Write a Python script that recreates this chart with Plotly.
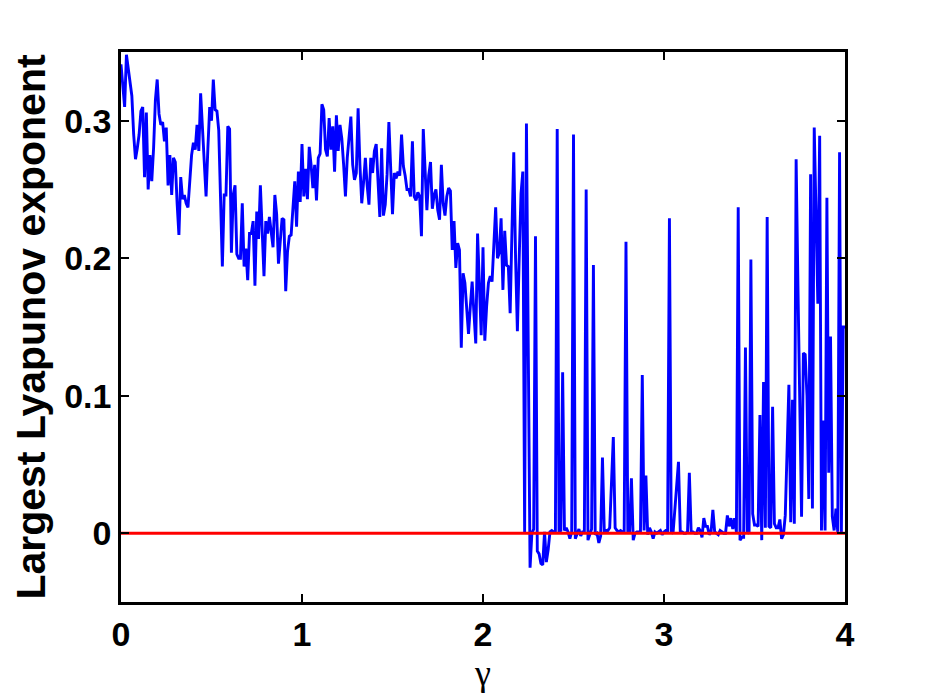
import plotly.graph_objects as go

# gamma sampled every 0.01 from 0 to 4 (401 samples)
gamma_start = 0.0
gamma_step = 0.01

lyap_0_49 = [
    0.341, 0.325, 0.310, 0.348, 0.338, 0.325, 0.318, 0.290, 0.272, 0.280,
    0.290, 0.307, 0.310, 0.259, 0.306, 0.250, 0.275, 0.256, 0.280, 0.315,
    0.330, 0.305, 0.297, 0.299, 0.285, 0.295, 0.253, 0.275, 0.246, 0.273,
    0.270, 0.240, 0.217, 0.259, 0.243, 0.246, 0.240, 0.237, 0.260, 0.275,
    0.284, 0.279, 0.297, 0.278, 0.320, 0.295, 0.270, 0.245, 0.280, 0.310,
]
lyap_50_99 = [
    0.300, 0.330, 0.308, 0.307, 0.293, 0.250, 0.194, 0.246, 0.246, 0.296,
    0.294, 0.204, 0.246, 0.253, 0.203, 0.200, 0.200, 0.240, 0.194, 0.207,
    0.184, 0.218, 0.218, 0.227, 0.180, 0.234, 0.214, 0.253, 0.217, 0.187,
    0.227, 0.218, 0.230, 0.219, 0.208, 0.246, 0.232, 0.196, 0.215, 0.229,
    0.228, 0.176, 0.205, 0.216, 0.217, 0.234, 0.256, 0.223, 0.263, 0.241,
]
lyap_100_149 = [
    0.283, 0.245, 0.265, 0.243, 0.281, 0.268, 0.251, 0.268, 0.242, 0.273,
    0.276, 0.312, 0.308, 0.279, 0.274, 0.302, 0.279, 0.296, 0.263, 0.304,
    0.278, 0.297, 0.287, 0.268, 0.245, 0.273, 0.287, 0.303, 0.268, 0.257,
    0.262, 0.309, 0.268, 0.240, 0.255, 0.273, 0.253, 0.239, 0.273, 0.262,
    0.278, 0.283, 0.256, 0.230, 0.280, 0.231, 0.239, 0.261, 0.299, 0.260,
]
lyap_150_199 = [
    0.232, 0.262, 0.258, 0.263, 0.260, 0.290, 0.267, 0.260, 0.250, 0.250,
    0.245, 0.285, 0.245, 0.242, 0.248, 0.245, 0.216, 0.294, 0.265, 0.235,
    0.260, 0.270, 0.236, 0.246, 0.250, 0.235, 0.228, 0.268, 0.240, 0.231,
    0.245, 0.251, 0.249, 0.206, 0.227, 0.193, 0.211, 0.206, 0.135, 0.189,
    0.182, 0.160, 0.145, 0.165, 0.183, 0.160, 0.138, 0.218, 0.175, 0.144,
]
lyap_200_249 = [
    0.208, 0.140, 0.165, 0.182, 0.187, 0.183, 0.210, 0.237, 0.200, 0.204,
    0.229, 0.177, 0.220, 0.195, 0.194, 0.160, 0.220, 0.277, 0.200, 0.147,
    0.200, 0.247, 0.263, 0.000, 0.298, 0.100, -0.025, 0.000, 0.003, 0.216,
    -0.013, -0.015, -0.022, -0.023, 0.001, -0.021, -0.012, 0.001, 0.002, 0.001,
    0.001, 0.294, 0.001, 0.002, 0.117, 0.002, 0.004, 0.001, -0.004, 0.001,
]
lyap_250_299 = [
    0.290, -0.004, 0.000, 0.003, -0.002, 0.001, 0.001, 0.250, -0.005, 0.000,
    0.003, 0.195, -0.001, 0.000, -0.007, -0.002, 0.055, 0.002, 0.002, 0.002,
    0.004, 0.044, 0.070, 0.004, 0.002, 0.001, 0.002, 0.001, 0.001, 0.212,
    0.001, 0.001, 0.040, -0.005, 0.000, 0.001, 0.001, 0.001, 0.115, 0.002,
    0.042, -0.001, 0.004, 0.001, -0.004, 0.001, 0.000, 0.001, 0.002, -0.001,
]
lyap_300_349 = [
    0.001, 0.002, 0.002, 0.229, 0.001, 0.000, 0.019, 0.035, 0.052, 0.001,
    0.001, 0.000, 0.000, 0.001, 0.044, 0.001, 0.001, 0.000, 0.000, 0.004,
    0.002, -0.003, 0.011, 0.005, 0.005, -0.001, 0.001, 0.017, 0.001, 0.000,
    -0.001, 0.002, 0.001, 0.000, 0.000, 0.013, 0.005, 0.011, 0.003, 0.011,
    0.001, 0.237, -0.005, -0.003, -0.003, 0.135, 0.001, 0.000, 0.199, 0.014,
]
lyap_350_400 = [
    0.006, 0.006, 0.005, 0.086, -0.005, 0.110, 0.004, 0.230, 0.005, 0.004,
    0.092, 0.007, 0.004, 0.004, 0.010, -0.004, -0.001, 0.013, 0.060, 0.108,
    0.008, 0.097, 0.007, 0.272, 0.180, 0.099, 0.012, 0.131, 0.130, 0.100,
    0.025, 0.261, 0.018, 0.295, 0.215, 0.167, 0.289, 0.002, 0.082, 0.002,
    0.244, 0.044, 0.143, 0.012, 0.002, 0.018, 0.001, 0.277, 0.001, 0.150,
    0.150,
]

lyapunov = (lyap_0_49 + lyap_50_99 + lyap_100_149 + lyap_150_199 +
            lyap_200_249 + lyap_250_299 + lyap_300_349 + lyap_350_400)[:401]
gamma = [round(gamma_start + gamma_step * i, 2) for i in range(len(lyapunov))]

zero_x = [0, 4]
zero_y = [0, 0]

x_ticks = [0, 1, 2, 3, 4]
x_tick_labels = ["0", "1", "2", "3", "4"]
y_ticks = [0, 0.1, 0.2, 0.3]
y_tick_labels = ["0", "0.1", "0.2", "0.3"]

fig = go.Figure()
fig.add_trace(go.Scatter(x=gamma, y=lyapunov, mode="lines",
                         line=dict(color="rgb(0,0,255)", width=2.9),
                         showlegend=False, hoverinfo="skip"))
fig.add_trace(go.Scatter(x=zero_x, y=zero_y, mode="lines",
                         line=dict(color="rgb(255,0,0)", width=3),
                         showlegend=False, hoverinfo="skip"))

axis_common = dict(
    showgrid=False, zeroline=False, showline=True, linecolor="black",
    linewidth=2.5, mirror="ticks", ticks="inside", ticklen=8, tickwidth=2,
    tickcolor="black",
    tickfont=dict(family="Liberation Sans, Arial, sans-serif", size=34,
                  color="black", weight="bold"),
)

fig.update_layout(
    width=934, height=700,
    margin=dict(l=113, r=97, t=44, b=106),
    paper_bgcolor="white", plot_bgcolor="white",
    xaxis=dict(range=[0, 4], tickvals=x_ticks, ticktext=x_tick_labels,
               title=dict(text="γ", standoff=0,
                          font=dict(family="Liberation Serif, serif", size=36,
                                    color="black")),
               automargin=False, **axis_common),
    yaxis=dict(range=[-0.05, 0.35], tickvals=y_ticks, ticktext=y_tick_labels,
               title=dict(text="Largest Lyapunov exponent", standoff=20,
                          font=dict(family="Liberation Sans, Arial, sans-serif",
                                    size=41, color="black", weight="bold")),
               automargin=False, **axis_common),
)

fig.write_html("out.html")
